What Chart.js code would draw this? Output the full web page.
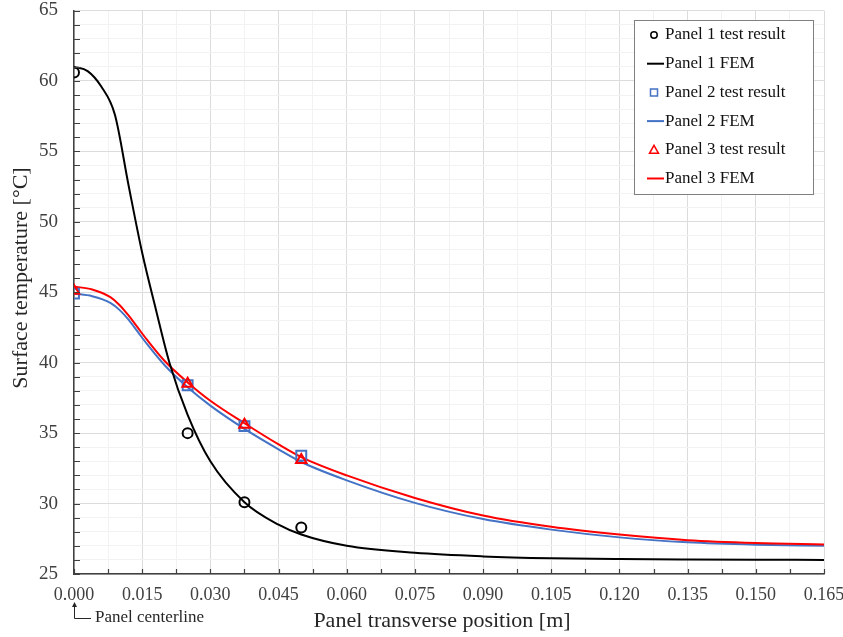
<!DOCTYPE html>
<html>
<head>
<meta charset="utf-8">
<script src="https://cdn.jsdelivr.net/npm/chart.js@4"></script>
<style>
  html, body { margin: 0; padding: 0; background: #fff; }
  #wrap { width: 843px; height: 637px; }
</style>
</head>
<body>
<div id="wrap"><canvas id="chart" width="843" height="637"></canvas></div>
<script>
// test points (thermocouple positions)
const testX = [0, 0.025, 0.0375, 0.05];
const panel1Test = [60.6, 35.0, 30.1, 28.3];
const panel2Test = [44.9, 38.4, 35.5, 33.4];
const panel3Test = [45.1, 38.5, 35.6, 33.1];

// FEM curves
const fem1X = [0, 0.003, 0.006, 0.009, 0.012, 0.015, 0.018, 0.021, 0.025, 0.030, 0.0375, 0.045, 0.05, 0.06, 0.075, 0.09, 0.105, 0.12, 0.135, 0.15, 0.165];
const panel1Fem = [61.0, 60.7, 59.6, 57.6, 52.6, 47.8, 43.8, 40.0, 36.3, 33.0, 30.1, 28.5, 27.8, 27.0, 26.5, 26.25, 26.12, 26.06, 26.03, 26.01, 26.0];
const femX = [0, 0.004, 0.008, 0.010, 0.012, 0.014, 0.016, 0.020, 0.025, 0.030, 0.0375, 0.045, 0.05, 0.06, 0.075, 0.09, 0.105, 0.12, 0.135, 0.15, 0.165];
const panel2Fem = [44.9, 44.72, 44.25, 43.75, 43.05, 42.2, 41.35, 39.8, 38.25, 36.95, 35.3, 33.85, 32.95, 31.65, 30.05, 28.9, 28.15, 27.6, 27.25, 27.08, 27.0];
const panel3Fem = [45.4, 45.2, 44.65, 44.1, 43.35, 42.5, 41.65, 40.1, 38.6, 37.3, 35.7, 34.2, 33.3, 32.0, 30.4, 29.15, 28.35, 27.8, 27.4, 27.2, 27.1];

const xMin = 0, xMax = 0.165, xStep = 0.0075;
const yMin = 25, yMax = 65, yStep = 1;
const xTitle = 'Panel transverse position [m]';
const yTitle = 'Surface temperature [°C]';

const SERIF = "'Liberation Serif', 'Times New Roman', serif";
const BLACK = '#000000', BLUE = '#4472C4', RED = '#FF0000';

const pts = (xs, ys) => xs.map((x, i) => ({ x, y: ys[i] }));

const markerSet = (label, xs, ys, color, style, radius, order) => ({
    label, data: pts(xs, ys), showLine: false,
    pointStyle: style, pointRadius: radius, pointHoverRadius: radius,
    pointBorderColor: color, pointBorderWidth: 2,
    pointBackgroundColor: 'rgba(255,255,255,0)', borderColor: color, order
});
const lineSet = (label, xs, ys, color, order) => ({
    label, data: pts(xs, ys), showLine: true, pointRadius: 0,
    borderColor: color, borderWidth: 2, cubicInterpolationMode: 'monotone', order
});

const datasets = [
    markerSet('Panel 1 test result', testX, panel1Test, BLACK, 'circle', 5, 2),
    lineSet('Panel 1 FEM', fem1X, panel1Fem, BLACK, 3),
    markerSet('Panel 2 test result', testX, panel2Test, BLUE, 'rect', 7, 1),
    lineSet('Panel 2 FEM', femX, panel2Fem, BLUE, 5),
    markerSet('Panel 3 test result', testX, panel3Test, RED, 'triangle', 6, 0),
    lineSet('Panel 3 FEM', femX, panel3Fem, RED, 4)
];

const isMajor = (v, step, every) => Math.abs(Math.round(v / step) % every) === 0;

// inward tick marks, axis titles, legend box and centerline note
const extras = {
    id: 'extras',
    afterDatasetsDraw(chart) {
        const { ctx, chartArea: a, scales: { x, y } } = chart;
        ctx.save();
        ctx.strokeStyle = '#404040';
        ctx.lineWidth = 1.2;
        ctx.beginPath();
        y.ticks.forEach(t => {
            const py = Math.round(y.getPixelForValue(t.value)) + 0.5;
            ctx.moveTo(a.left, py); ctx.lineTo(a.left + 6, py);
        });
        x.ticks.forEach(t => {
            const px = Math.round(x.getPixelForValue(t.value)) + 0.5;
            ctx.moveTo(px, a.bottom); ctx.lineTo(px, a.bottom - 5);
        });
        ctx.stroke();

        // axis titles
        ctx.fillStyle = '#262626';
        ctx.font = '22px ' + SERIF;
        ctx.textAlign = 'center';
        ctx.textBaseline = 'middle';
        ctx.fillText(xTitle, 442, 621);
        ctx.save();
        ctx.translate(21, 278);
        ctx.rotate(-Math.PI / 2);
        ctx.fillText(yTitle, 0, 0);
        ctx.restore();

        // legend
        const lx = 634, ly = 20, lw = 179, lh = 174, rowH = 28.7;
        ctx.fillStyle = '#fff';
        ctx.fillRect(lx, ly, lw, lh);
        ctx.strokeStyle = '#808080';
        ctx.lineWidth = 1;
        ctx.strokeRect(lx + 0.5, ly + 0.5, lw, lh);
        ctx.font = '17px ' + SERIF;
        ctx.textBaseline = 'middle';
        ctx.textAlign = 'left';
        chart.data.datasets.forEach((ds, i) => {
            const cy = ly + 15 + i * rowH;
            if (ds.showLine) {
                ctx.strokeStyle = ds.borderColor;
                ctx.lineWidth = 2;
                ctx.beginPath();
                ctx.moveTo(647, cy); ctx.lineTo(664, cy);
                ctx.stroke();
            } else {
                ctx.strokeStyle = ds.pointBorderColor;
                ctx.lineWidth = 1.5;
                ctx.beginPath();
                if (ds.pointStyle === 'circle') {
                    ctx.arc(654, cy, 3.2, 0, Math.PI * 2);
                } else if (ds.pointStyle === 'rect') {
                    ctx.rect(650.5, cy - 3.5, 7, 7);
                } else {
                    ctx.moveTo(654, cy - 4.5); ctx.lineTo(658.5, cy + 3.5); ctx.lineTo(649.5, cy + 3.5); ctx.closePath();
                }
                ctx.stroke();
            }
            ctx.fillStyle = '#111';
            ctx.fillText(ds.label, 665, cy);
        });

        // centerline note
        const x0 = Math.round(x.getPixelForValue(0)) + 0.5;
        ctx.strokeStyle = '#262626';
        ctx.fillStyle = '#262626';
        ctx.lineWidth = 1;
        ctx.beginPath();
        ctx.moveTo(x0, 606); ctx.lineTo(x0, 618.5); ctx.lineTo(91, 618.5);
        ctx.stroke();
        ctx.beginPath();
        ctx.moveTo(x0, 602); ctx.lineTo(x0 - 2.5, 607); ctx.lineTo(x0 + 2.5, 607); ctx.closePath();
        ctx.fill();
        ctx.font = '17px ' + SERIF;
        ctx.textBaseline = 'middle';
        ctx.fillText('Panel centerline', 95, 618);
        ctx.restore();
    }
};

new Chart(document.getElementById('chart'), {
    type: 'scatter',
    data: { datasets },
    options: {
        responsive: false,
        animation: false,
        layout: { padding: { top: 10.5, right: 19, left: 0, bottom: 0 } },
        plugins: { legend: { display: false }, tooltip: { enabled: false } },
        scales: {
            x: {
                type: 'linear', min: xMin, max: xMax,
                afterFit: s => { s.height = 63; s.paddingLeft = 0; s.paddingRight = 0; },
                border: { color: '#404040', width: 1.5 },
                grid: {
                    drawTicks: false,
                    color: c => isMajor(c.tick.value, xStep, 2) ? '#dcdcdc' : '#f2f2f2'
                },
                ticks: {
                    stepSize: xStep, autoSkip: false, maxRotation: 0, padding: 10,
                    color: '#404040', font: { family: SERIF, size: 18 },
                    callback: v => isMajor(v, xStep, 2) ? v.toFixed(3) : ''
                }
            },
            y: {
                type: 'linear', min: yMin, max: yMax,
                afterFit: s => { s.width = 74; s.paddingTop = 0; s.paddingBottom = 0; },
                border: { color: '#404040', width: 1.5 },
                grid: {
                    drawTicks: false,
                    color: c => isMajor(c.tick.value, yStep, 5) ? '#dcdcdc' : '#f2f2f2'
                },
                ticks: {
                    stepSize: yStep, autoSkip: false, padding: 16,
                    color: '#404040', font: { family: SERIF, size: 19 },
                    callback: v => isMajor(v, yStep, 5) ? String(v) : ''
                }
            }
        }
    },
    plugins: [extras]
});
</script>
</body>
</html>
